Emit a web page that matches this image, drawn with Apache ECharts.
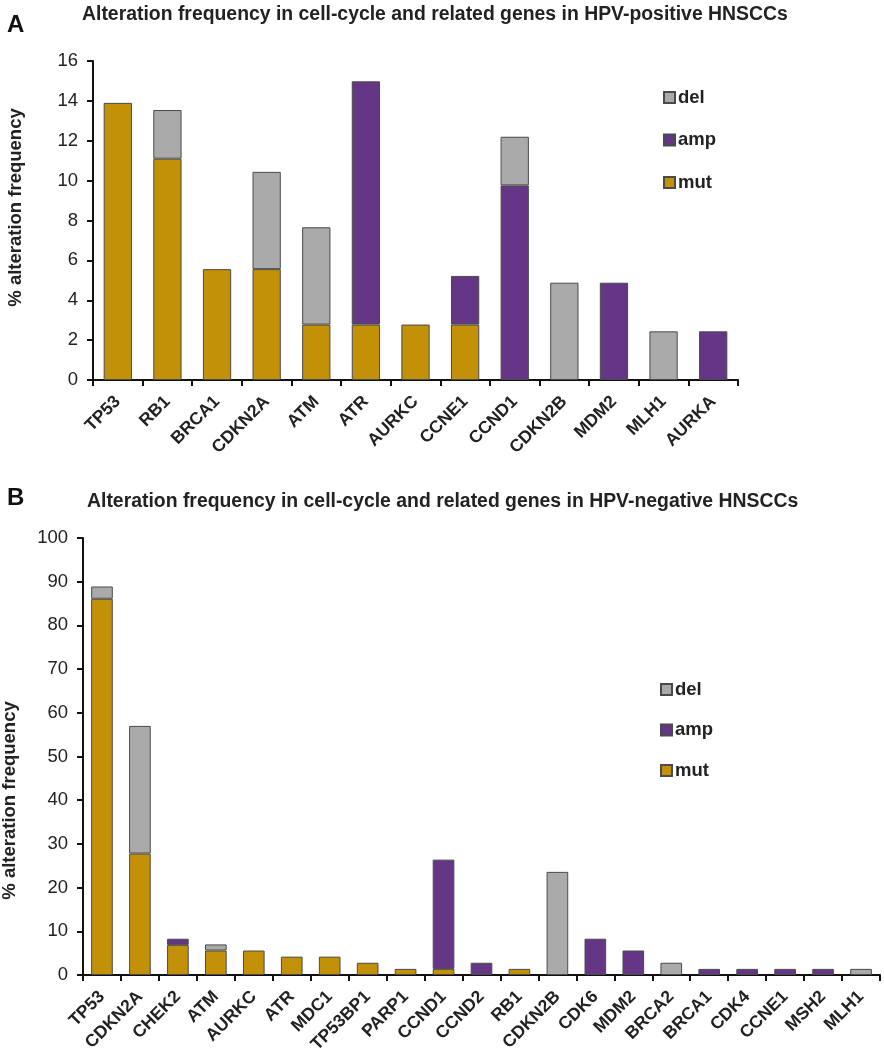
<!DOCTYPE html>
<html><head><meta charset="utf-8">
<script src="https://cdn.jsdelivr.net/npm/echarts@6/dist/echarts.min.js"></script>
<style>html,body{margin:0;padding:0;background:#fff}#c{width:884px;height:1057px}</style>
</head><body><div id="c"></div>
<script>
// Panel A: HPV-positive
const catsA = ['TP53','RB1','BRCA1','CDKN2A','ATM','ATR','AURKC','CCNE1','CCND1','CDKN2B','MDM2','MLH1','AURKA'];
const mutA  = [13.9, 11.1, 5.56, 5.56, 2.78, 2.78, 2.78, 2.78, 0, 0, 0, 0, 0];
const ampA  = [0, 0, 0, 0, 0, 12.2, 0, 2.44, 9.76, 0, 4.88, 0, 2.44];
const delA  = [0, 2.44, 0, 4.88, 4.88, 0, 0, 0, 2.44, 4.88, 0, 2.44, 0];
const ticksA = [0, 2, 4, 6, 8, 10, 12, 14, 16];

// Panel B: HPV-negative
const catsB = ['TP53','CDKN2A','CHEK2','ATM','AURKC','ATR','MDC1','TP53BP1','PARP1','CCND1','CCND2','RB1','CDKN2B','CDK6','MDM2','BRCA2','BRCA1','CDK4','CCNE1','MSH2','MLH1'];
const mutB  = [86.1, 27.8, 6.9, 5.6, 5.6, 4.2, 4.2, 2.8, 1.4, 1.4, 0, 1.4, 0, 0, 0, 0, 0, 0, 0, 0, 0];
const ampB  = [0, 0, 1.4, 0, 0, 0, 0, 0, 0, 25.0, 2.8, 0, 0, 8.3, 5.6, 0, 1.4, 1.4, 1.4, 1.4, 0];
const delB  = [2.8, 29.2, 0, 1.4, 0, 0, 0, 0, 0, 0, 0, 0, 23.6, 0, 0, 2.8, 0, 0, 0, 0, 1.4];
const ticksB = [0, 10, 20, 30, 40, 50, 60, 70, 80, 90, 100];

const titleA = 'Alteration frequency in cell-cycle and related genes in HPV-positive HNSCCs';
const titleB = 'Alteration frequency in cell-cycle and related genes in HPV-negative HNSCCs';
const yName = '% alteration frequency';

const COL = {mut:'#C29108', amp:'#663686', del:'#AAAAAA'};
const BORDER = '#4a4a4a';
const FONT = '"Liberation Sans", Arial, sans-serif';
const nz = a => a.map(v => v === 0 ? '-' : v);

function xAxisCfg(cats, gi) {
  return {
    type:'category', gridIndex:gi, data:cats,
    axisLine:{lineStyle:{color:'#111', width:2}},
    axisTick:{show:true, length:6, lineStyle:{color:'#111', width:2}},
    axisLabel:{interval:0, rotate:45, margin:19, fontFamily:FONT, fontWeight:'bold', fontSize:17.5, color:'#222'}
  };
}
function yAxisCfg(ticks, gi, gap, pad) {
  return {
    type:'value', gridIndex:gi, min:ticks[0], max:ticks[ticks.length-1], interval:ticks[1]-ticks[0],
    name:yName, nameLocation:'middle', nameGap:gap,
    nameTextStyle:{fontFamily:FONT, fontWeight:'bold', fontSize:18.5, color:'#222', padding:pad},
    axisLine:{show:true, lineStyle:{color:'#111', width:2}},
    axisTick:{show:true, length:6, lineStyle:{color:'#111', width:2}},
    splitLine:{show:false},
    axisLabel:{margin:15, fontFamily:FONT, fontSize:18.5, color:'#222'}
  };
}
function bar(name, data, gi, stack) {
  return {
    type:'bar', name:name, data:nz(data), xAxisIndex:gi, yAxisIndex:gi, stack:stack,
    barWidth:'57%',
    itemStyle:{color:COL[name], borderColor:BORDER, borderWidth:1},
    emphasis:{disabled:true}
  };
}
function legendCfg(left, top, gap) {
  return {
    data:['del','amp','mut'], orient:'vertical', left:left, top:top, itemGap:gap, padding:0,
    icon:'rect', itemWidth:11, itemHeight:11,
    selectedMode:false,
    textStyle:{fontFamily:FONT, fontWeight:'bold', fontSize:18.5, color:'#222', lineHeight:18, padding:[0,0,0,-2]}
  };
}

const chart = echarts.init(document.getElementById('c'));
chart.setOption({
  animation:false,
  backgroundColor:'#fff',
  title:[
    {text:'A', left:7, top:13, padding:0, textStyle:{fontFamily:FONT, fontWeight:'bold', fontSize:24, color:'#111'}},
    {text:titleA, left:82, top:5, padding:0, textStyle:{fontFamily:FONT, fontWeight:'bold', fontSize:19.4, color:'#222'}},
    {text:'B', left:7, top:486, padding:0, textStyle:{fontFamily:FONT, fontWeight:'bold', fontSize:24, color:'#111'}},
    {text:titleB, left:87, top:492, padding:0, textStyle:{fontFamily:FONT, fontWeight:'bold', fontSize:19.4, color:'#222'}}
  ],
  legend:[legendCfg(663, 88, 23.5), legendCfg(660, 680, 21.5)],
  grid:[
    {left:93, top:61, width:645, height:319, outerBoundsMode:'none'},
    {left:83, top:538, width:797, height:437, outerBoundsMode:'none'}
  ],
  xAxis:[xAxisCfg(catsA, 0), xAxisCfg(catsB, 1)],
  yAxis:[yAxisCfg(ticksA, 0, 68, [0,0,0,26]), yAxisCfg(ticksB, 1, 64, [0,88,0,0])],
  series:[
    bar('mut', mutA, 0, 'a'), bar('amp', ampA, 0, 'a'), bar('del', delA, 0, 'a'),
    bar('mut', mutB, 1, 'b'), bar('amp', ampB, 1, 'b'), bar('del', delB, 1, 'b')
  ]
});
</script></body></html>
